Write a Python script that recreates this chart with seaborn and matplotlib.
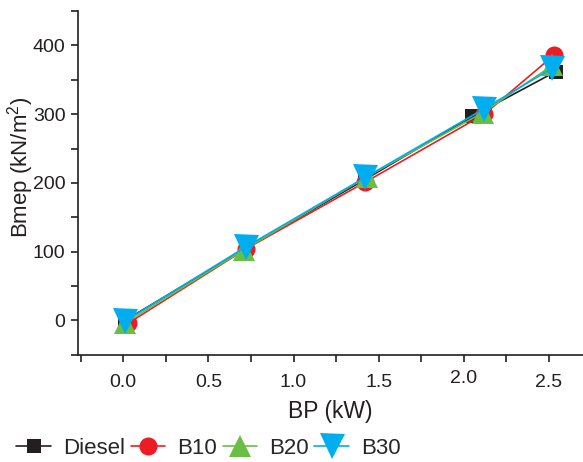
import matplotlib
matplotlib.use("Agg")
import matplotlib.pyplot as plt
import matplotlib.transforms as mtrans
import seaborn as sns
import pandas as pd
from matplotlib.ticker import MultipleLocator

series = ["Diesel", "B10", "B20", "B30"]
bp_diesel = [0.01, 0.72, 1.42, 2.05, 2.54]
bmep_diesel = [0, 105, 205, 297, 362]
bp_b10 = [0.03, 0.72, 1.42, 2.12, 2.53]
bmep_b10 = [-4, 104, 201, 300, 386]
bp_b20 = [0.01, 0.71, 1.43, 2.11, 2.52]
bmep_b20 = [-4, 103, 209, 302, 371]
bp_b30 = [0.01, 0.72, 1.42, 2.12, 2.52]
bmep_b30 = [-1, 107, 208, 308, 367]
xtick_labels = ["0.0", "0.5", "1.0", "1.5", "2.0", "2.5"]
ytick_values = [0, 100, 200, 300, 400]

frames = []
for name, xs, ys in zip(series, [bp_diesel, bp_b10, bp_b20, bp_b30],
                        [bmep_diesel, bmep_b10, bmep_b20, bmep_b30]):
    frames.append(pd.DataFrame({"BP": xs, "Bmep": ys, "Fuel": name}))
df = pd.concat(frames, ignore_index=True)

sns.set_style("ticks")
plt.rcParams["font.family"] = ["Liberation Sans", "DejaVu Sans"]
plt.rcParams["mathtext.fontset"] = "custom"
plt.rcParams["mathtext.rm"] = "Liberation Sans"

ink = "#231f20"
colors = {"Diesel": ink, "B10": "#ed1c24", "B20": "#6abd45", "B30": "#00aeef"}
markers = {"Diesel": "s", "B10": "o", "B20": "^", "B30": "v"}
msizes = {"Diesel": 9.5, "B10": 13, "B20": 16.5, "B30": 18}

fig = plt.figure(figsize=(5.83, 4.62), dpi=100)
ax = fig.add_axes([0.134, 0.232, 0.866, 0.744])

for name in series:
    sub = df[df["Fuel"] == name]
    sns.lineplot(data=sub, x="BP", y="Bmep", ax=ax, color=colors[name],
                 marker=markers[name], markersize=msizes[name],
                 markeredgewidth=0, linewidth=1.2, label=name, sort=False)

ax.set_xlim(-0.265, 2.7)
ax.set_ylim(-50, 450)
ax.xaxis.set_minor_locator(MultipleLocator(0.25))
ax.yaxis.set_minor_locator(MultipleLocator(50))
ax.set_xticks([0, 0.5, 1.0, 1.5, 2.0, 2.5])
ax.set_xticklabels(xtick_labels)
ax.set_yticks(ytick_values)
ax.tick_params(axis="both", which="both", direction="out", length=5, width=1.2,
               colors=ink, labelsize=14)
ax.tick_params(axis="x", pad=9)
ax.tick_params(axis="y", pad=4)
for s in ["top", "right"]:
    ax.spines[s].set_visible(False)
for s in ["left", "bottom"]:
    ax.spines[s].set_linewidth(1.2)
    ax.spines[s].set_color(ink)

# the "2.0" label sits slightly higher in the reference
lbl = ax.get_xticklabels()[4]
lbl.set_transform(lbl.get_transform() +
                  mtrans.ScaledTranslation(0, 4 / 100, fig.dpi_scale_trans))

ax.set_xlabel("BP (kW)", fontsize=16.5, color=ink, labelpad=6)
ax.set_ylabel("Bmep (kN/m$^2$)", fontsize=16, color=ink)
ax.yaxis.set_label_coords(-0.083, 0.545)

handles, labels = ax.get_legend_handles_labels()
ax.legend_.remove()
fig.legend(handles, labels, loc="center left", bbox_to_anchor=(0.028, 0.03),
           ncol=4, frameon=False, fontsize=16, handlelength=1.55,
           handletextpad=0.55, columnspacing=0.25, markerscale=1.0,
           borderaxespad=0, borderpad=0)

fig.savefig("out.png", dpi=100)
